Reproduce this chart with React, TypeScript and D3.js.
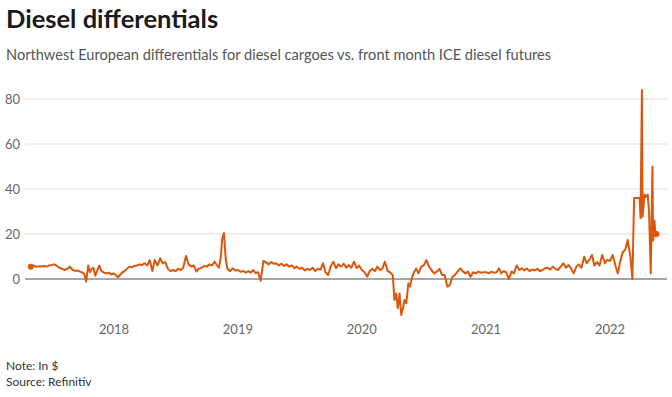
import * as d3 from "d3";
import { useEffect, useRef } from "react";

const title = "Diesel differentials";
const subtitle =
  "Northwest European differentials for diesel cargoes vs. front month ICE diesel futures";
const notes = ["Note: In $", "Source: Refinitiv"];
const yTicks = [0, 20, 40, 60, 80];
const xTicks = ["2018", "2019", "2020", "2021", "2022"];

// readings per month, spread evenly over the month
const monthly: [string, number[]][] = [
  ["2017-05", [5.5, 6.0, 5.4, 5.7]],
  ["2017-06", [5.6, 5.8, 5.5, 6.0]],
  ["2017-07", [6.2, 6.5, 5.8, 5.0]],
  ["2017-08", [4.5, 4.0, 4.6, 5.5]],
  ["2017-09", [4.0, 3.6, 3.8, 3.2]],
  ["2017-10", [2.8, 2.0, -1.2, 6.0, 3.0, 4.5]],
  ["2017-11", [5.0, 1.5, 4.0, 6.0, 3.5]],
  ["2017-12", [3.0, 2.5, 2.8, 2.0]],
  ["2018-01", [2.5, 1.5, 0.8, 2.0, 3.0]],
  ["2018-02", [3.5, 4.5, 5.5, 5.2]],
  ["2018-03", [5.8, 6.0, 6.5, 6.2]],
  ["2018-04", [7.0, 6.0, 8.4, 3.5]],
  ["2018-05", [8.5, 6.0, 9.2, 7.0]],
  ["2018-06", [7.5, 4.5, 3.5, 4.0]],
  ["2018-07", [3.5, 4.5, 4.0, 5.0]],
  ["2018-08", [10.2, 6.5, 5.5, 6.0]],
  ["2018-09", [3.3, 4.7, 5.0, 5.8]],
  ["2018-10", [5.5, 6.5, 6.0, 7.7]],
  ["2018-11", [6.0, 5.0, 9.0, 18.0, 20.4, 9.0]],
  ["2018-12", [4.5, 3.5, 4.8, 3.8]],
  ["2019-01", [4.0, 3.2, 3.6, 2.8]],
  ["2019-02", [3.5, 2.8, 4.0, 2.6]],
  ["2019-03", [3.0, -0.8, 8.0, 7.5]],
  ["2019-04", [6.5, 7.5, 6.8, 7.0]],
  ["2019-05", [6.0, 6.8, 5.8, 6.5]],
  ["2019-06", [5.5, 6.0, 4.8, 5.5]],
  ["2019-07", [4.5, 5.0, 3.8, 4.5]],
  ["2019-08", [4.0, 5.0, 3.5, 4.5]],
  ["2019-09", [4.2, 7.0, 3.0, 1.8]],
  ["2019-10", [5.5, 7.7, 4.8, 6.5]],
  ["2019-11", [5.5, 6.8, 5.0, 6.2]],
  ["2019-12", [5.0, 7.7, 4.8, 6.0]],
  ["2020-01", [4.0, 3.0, 1.0, 3.5]],
  ["2020-02", [4.5, 3.5, 5.5, 4.0]],
  ["2020-03", [4.5, 7.7, 3.5, 3.0]],
  ["2020-04", [1.8, -9.3, -6.4, -13, -6.4, -16]],
  ["2020-05", [-13, -9.3, -10.8, -1.9, -3.4, 0.3]],
  ["2020-06", [2.5, 4.7, 2.5, 5.5]],
  ["2020-07", [6.0, 8.4, 5.5, 4.0]],
  ["2020-08", [2.5, 3.3, 4.5, 1.8]],
  ["2020-09", [1.8, -3.4, -2.7, 1.0]],
  ["2020-10", [1.8, 3.3, 4.7, 3.5]],
  ["2020-11", [2.5, 3.3, 1.0, 3.0]],
  ["2020-12", [2.5, 3.3, 2.8, 3.0]],
  ["2021-01", [3.0, 2.5, 3.3, 2.8]],
  ["2021-02", [3.0, 4.7, 2.5, 3.5]],
  ["2021-03", [3.0, 0.0, 3.3, 2.5]],
  ["2021-04", [6.0, 4.0, 4.7, 3.8]],
  ["2021-05", [4.7, 3.5, 4.2, 3.8]],
  ["2021-06", [4.5, 3.5, 4.0, 4.8]],
  ["2021-07", [5.0, 4.2, 5.5, 4.5]],
  ["2021-08", [4.0, 5.5, 7.0, 5.0]],
  ["2021-09", [6.2, 4.5, 2.5, 5.5]],
  ["2021-10", [6.5, 5.0, 9.9, 7.0]],
  ["2021-11", [8.5, 10.7, 6.0, 7.5]],
  ["2021-12", [6.0, 10.7, 7.0, 8.5]],
  ["2022-01", [8.0, 10.7, 6.0, 2.5]],
  ["2022-02", [8.4, 12.0, 13.0, 17.3]],
];

// the spike period, read day by day
const spring2022: [string, number][] = [
  ["2022-03-02", 10],
  ["2022-03-08", 0],
  ["2022-03-13", 36],
  ["2022-03-29", 36],
  ["2022-04-01", 27],
  ["2022-04-05", 84],
  ["2022-04-07", 27.7],
  ["2022-04-13", 37.5],
  ["2022-04-17", 36.5],
  ["2022-04-22", 37.5],
  ["2022-04-26", 30],
  ["2022-05-01", 2.5],
  ["2022-05-06", 50],
  ["2022-05-08", 17],
  ["2022-05-12", 26],
  ["2022-05-15", 19],
  ["2022-05-18", 20],
];

const font = "'Source Sans Pro', Lato, 'Noto Sans', sans-serif";

export default function App() {
  const svgRef = useRef<SVGSVGElement>(null);
  const width = 672;
  const height = 397;

  useEffect(() => {
    const parseMonth = d3.timeParse("%Y-%m");
    const parseDay = d3.timeParse("%Y-%m-%d");
    const data: { date: Date; value: number }[] = [];
    monthly.forEach(([m, vals]) => {
      const start = parseMonth(m) as Date;
      const days = d3.timeDay.count(start, d3.timeMonth.offset(start, 1));
      vals.forEach((v, i) => {
        data.push({ date: d3.timeDay.offset(start, Math.round((i * days) / vals.length)), value: v });
      });
    });
    spring2022.forEach(([d, v]) => data.push({ date: parseDay(d) as Date, value: v }));

    const svg = d3.select(svgRef.current);
    svg.selectAll("*").remove();

    const x = d3
      .scaleTime()
      .domain([new Date(2018, 0, 1), new Date(2022, 0, 1)])
      .range([114, 610]);
    const y = d3.scaleLinear().domain([0, 80]).range([279, 99]);

    svg
      .append("text")
      .attr("x", 6)
      .attr("y", 28)
      .attr("font-family", font)
      .attr("font-size", 25.5)
      .attr("font-weight", 700)
      .attr("fill", "#1a1a1a")
      .text(title);
    svg
      .append("text")
      .attr("x", 6)
      .attr("y", 60)
      .attr("font-family", font)
      .attr("font-size", 14.6)
      .attr("fill", "#555")
      .text(subtitle);

    //grid + y labels
    const yg = svg.append("g");
    yg.selectAll("line")
      .data(yTicks.filter((t) => t !== 0))
      .enter()
      .append("line")
      .attr("x1", 25)
      .attr("x2", 667)
      .attr("y1", (d) => y(d))
      .attr("y2", (d) => y(d))
      .attr("stroke", "#dedede")
      .attr("stroke-width", 1);
    yg.selectAll("text")
      .data(yTicks)
      .enter()
      .append("text")
      .attr("x", 20)
      .attr("y", (d) => y(d))
      .attr("dy", "0.35em")
      .attr("text-anchor", "end")
      .attr("font-family", font)
      .attr("font-size", 13)
      .attr("fill", "#666")
      .text((d) => d);

    //x labels
    svg
      .append("g")
      .selectAll("text")
      .data(xTicks)
      .enter()
      .append("text")
      .attr("x", (d) => x(new Date(+d, 0, 1)))
      .attr("y", 334)
      .attr("text-anchor", "middle")
      .attr("font-family", font)
      .attr("font-size", 13)
      .attr("fill", "#666")
      .text((d) => d);

    // zero line
    svg
      .append("line")
      .attr("x1", 25)
      .attr("x2", 667)
      .attr("y1", y(0))
      .attr("y2", y(0))
      .attr("stroke", "#888")
      .attr("stroke-width", 1.5);

    const line = d3
      .line<{ date: Date; value: number }>()
      .x((d) => x(d.date))
      .y((d) => y(d.value));

    svg
      .append("path")
      .datum(data)
      .attr("d", line)
      .attr("fill", "none")
      .attr("stroke", "#d9580d")
      .attr("stroke-width", 2)
      .attr("stroke-linejoin", "round");

    svg
      .selectAll("circle.end")
      .data([data[0], data[data.length - 1]])
      .enter()
      .append("circle")
      .attr("class", "end")
      .attr("cx", (d) => x(d.date))
      .attr("cy", (d) => y(d.value))
      .attr("r", 3)
      .attr("fill", "#d9580d");

    svg
      .append("g")
      .selectAll("text")
      .data(notes)
      .enter()
      .append("text")
      .attr("x", 6)
      .attr("y", (d, i) => 370 + i * 16)
      .attr("font-family", font)
      .attr("font-size", 12)
      .attr("fill", "#333")
      .text((d) => d);
  }, []);

  return (
    <svg
      ref={svgRef}
      width={width}
      height={height}
      style={{ position: "absolute", left: 0, top: 0, background: "#fff" }}
    ></svg>
  );
}
